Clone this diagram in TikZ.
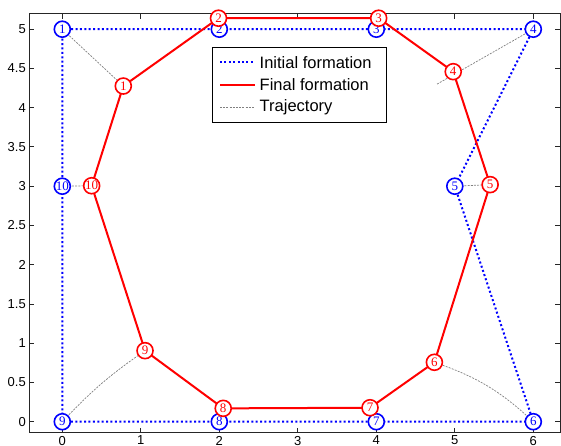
\documentclass[tikz,border=0pt]{standalone}
\usepackage{fontspec}
\setmainfont{Liberation Sans}
\newfontfamily\numfont{Liberation Serif}
\tikzset{
  axisline/.style={draw=black!85, line width=0.9pt},
  ini/.style={draw=blue, line width=2pt, dash pattern=on 2pt off 2.4pt},
  fin/.style={draw=red, line width=2pt},
  traj/.style={draw=black!50, line width=0.7pt, dash pattern=on 2pt off 1.2pt},
  mk/.style={circle, fill=white, line width=1.6pt, minimum size=16pt, inner sep=0pt,
    font=\numfont\fontsize{13}{13}\selectfont},
  bnode/.style={mk, draw=blue, text=blue},
  rnode/.style={mk, draw=red, text=red},
  ticklab/.style={font=\fontsize{13}{13}\selectfont, inner sep=1.5pt},
  legtext/.style={font=\fontsize{16.5}{16.5}\selectfont, anchor=west, inner sep=0pt}
}
\begin{document}
\begin{tikzpicture}[x=1pt,y=-1pt]
\useasboundingbox (0,0) rectangle (561,446);
\begin{scope}[shift={(62.3,421.7)}, x=78.5pt, y=78.5pt]
  % axes box and ticks
  \draw[axisline] (-0.418,-0.14) rectangle (6.345,5.195);
  \foreach \x in {0,...,6} {
    \draw[axisline] (\x,-0.14) -- ++(0,5pt);
    \draw[axisline] (\x,5.195) -- ++(0,-5pt);
    \node[ticklab, anchor=north] (xl\x) at (\x,-0.16) {\x};
  }
  \foreach \y in {0,0.5,1,1.5,2,2.5,3,3.5,4,4.5,5} {
    \draw[axisline] (-0.418,\y) -- ++(5pt,0);
    \draw[axisline] (6.345,\y) -- ++(-5pt,0);
    \node[ticklab, anchor=east] (yl\y) at ([xshift=-2pt]-0.418,\y) {\y};
  }
  % coordinates of markers
  \coordinate (p1) at (0,5);   \coordinate (q1) at (0.777,4.276);
  \coordinate (p2) at (2,5);   \coordinate (q2) at (1.99,5.14);
  \coordinate (p3) at (4,5);   \coordinate (q3) at (4.03,5.14);
  \coordinate (p4) at (6,5);   \coordinate (q4) at (4.98,4.459);
  \coordinate (p5) at (5,3);   \coordinate (q5) at (5.45,3.02);
  \coordinate (p6) at (6,0);   \coordinate (q6) at (4.74,0.757);
  \coordinate (p7) at (4,0);   \coordinate (q7) at (3.92,0.178);
  \coordinate (p8) at (2,0);   \coordinate (q8) at (2.05,0.17);
  \coordinate (p9) at (0,0);   \coordinate (q9) at (1.054,0.905);
  \coordinate (p10) at (0,3);  \coordinate (q10) at (0.374,3.006);
  \coordinate (c4) at (4.773,4.30);
  % trajectories
  \draw[traj] (p1) -- (q1);
  \draw[traj] (p2) -- (q2);
  \draw[traj] (p3) -- (q3);
  \draw[traj] (p4) -- (c4);
  \draw[traj] (p5) -- (q5);
  \draw[traj] (p6) to[bend right=12] (q6);
  \draw[traj] (p7) -- (q7);
  \draw[traj] (p8) -- (q8);
  \draw[traj] (p9) to[bend left=6] (q9);
  \draw[traj] (p10) -- (q10);
  % initial formation
  \draw[ini] (p1) -- (p2) -- (p3) -- (p4) -- (p5) -- (p6) -- (p7) -- (p8) -- (p9) -- (p10) -- cycle;
  \foreach \i in {1,...,10} { \node[bnode] (b\i) at (p\i) {\i}; }
  % final formation
  \draw[fin] (q1) -- (q2) -- (q3) -- (q4) -- (q5) -- (q6) -- (q7) -- (q8) -- (q9) -- (q10) -- cycle;
  \foreach \i in {1,...,10} { \node[rnode] (r\i) at (q\i) {\i}; }
\end{scope}
% legend
\draw[line width=0.8pt, fill=white] (212.7,47.7) rectangle (386,122);
\coordinate (la1) at (220,62.5); \coordinate (lb1) at (255,62.5);
\coordinate (la2) at (220,85);   \coordinate (lb2) at (255,85);
\coordinate (la3) at (220,107.5); \coordinate (lb3) at (255,107.5);
\draw[ini] (la1) -- (lb1);
\draw[fin] (la2) -- (lb2);
\draw[traj] (la3) -- (lb3);
\node[legtext] (t1) at (259.5,62.5) {Initial formation};
\node[legtext] (t2) at (259.5,85) {Final formation};
\node[legtext] (t3) at (259.5,107.5) {Trajectory};
\end{tikzpicture}
\end{document}
